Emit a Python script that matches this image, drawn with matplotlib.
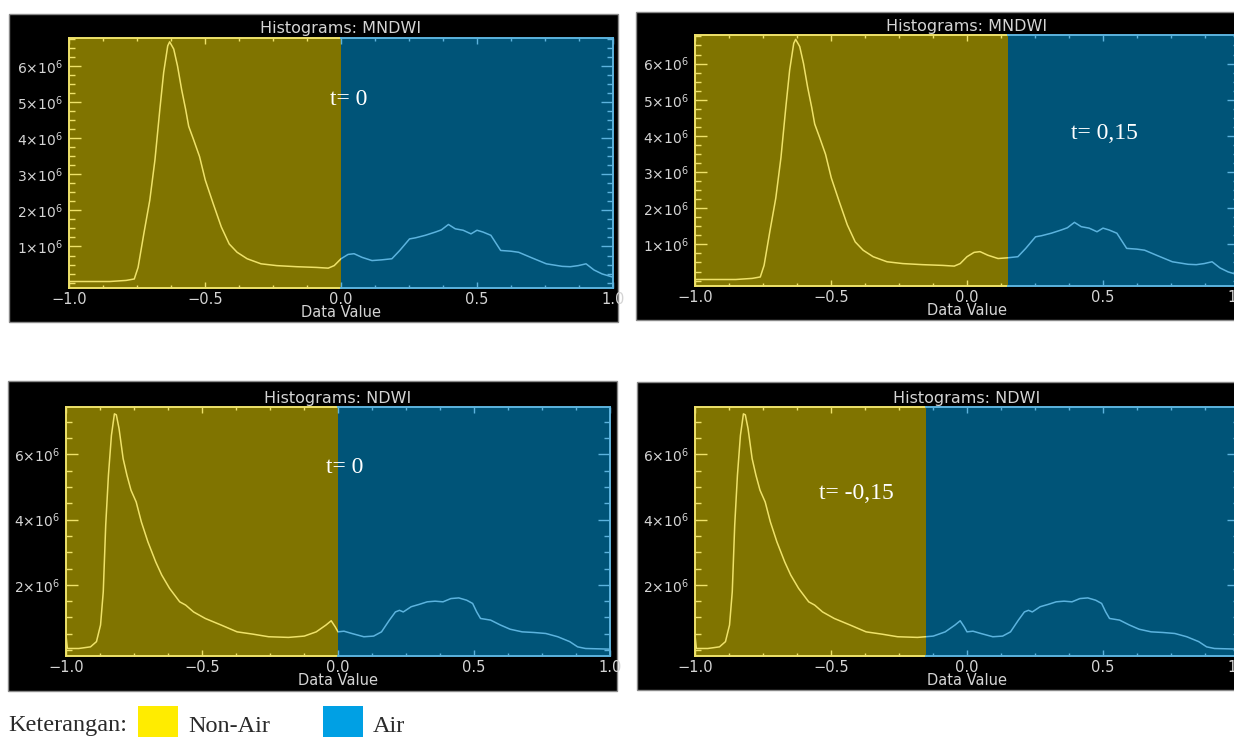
import matplotlib
matplotlib.use('Agg')
import matplotlib.pyplot as plt
from matplotlib.patches import Rectangle
from matplotlib.ticker import FixedLocator, MultipleLocator, FuncFormatter

W, H = 1234, 737

# MNDWI histogram, counts in millions
mndwi_x = [-1.0, -0.85, -0.79, -0.76, -0.746, -0.725, -0.703, -0.684, -0.666, -0.652,
           -0.637, -0.630, -0.615, -0.601, -0.586, -0.571, -0.56, -0.542, -0.52, -0.499,
           -0.47, -0.44, -0.411, -0.382, -0.345, -0.294, -0.236, -0.163, -0.09, -0.047,
           -0.025, 0.0, 0.026, 0.048, 0.077, 0.114, 0.15, 0.187, 0.216, 0.252,
           0.274, 0.31, 0.347, 0.369, 0.395, 0.42, 0.449, 0.478, 0.5, 0.522,
           0.551, 0.587, 0.624, 0.653, 0.697, 0.755, 0.813, 0.843, 0.872, 0.901,
           0.93, 0.96, 1.0]
mndwi_y = [0.03, 0.03, 0.06, 0.10, 0.42, 1.35, 2.28, 3.40, 4.80, 5.82,
           6.56, 6.67, 6.47, 6.00, 5.35, 4.79, 4.33, 3.96, 3.49, 2.84,
           2.19, 1.54, 1.07, 0.84, 0.66, 0.52, 0.47, 0.44, 0.42, 0.40,
           0.47, 0.66, 0.78, 0.80, 0.70, 0.61, 0.63, 0.66, 0.89, 1.21,
           1.24, 1.31, 1.40, 1.46, 1.61, 1.49, 1.45, 1.35, 1.45, 1.40,
           1.31, 0.89, 0.87, 0.84, 0.70, 0.52, 0.45, 0.44, 0.47, 0.52,
           0.35, 0.24, 0.15]

# NDWI histogram, counts in millions
ndwi_x = [-1.0, -0.995, -0.953, -0.91, -0.888, -0.873, -0.863, -0.854, -0.844, -0.833,
          -0.822, -0.815, -0.805, -0.79, -0.776, -0.761, -0.742, -0.723, -0.699, -0.67,
          -0.648, -0.619, -0.582, -0.56, -0.531, -0.488, -0.43, -0.371, -0.313, -0.255,
          -0.182, -0.124, -0.08, -0.044, -0.025, -0.01, 0.0, 0.022, 0.051, 0.095,
          0.131, 0.16, 0.189, 0.211, 0.226, 0.24, 0.269, 0.298, 0.328, 0.357,
          0.386, 0.415, 0.444, 0.473, 0.495, 0.51, 0.524, 0.561, 0.597, 0.633,
          0.677, 0.721, 0.764, 0.808, 0.852, 0.881, 0.91, 1.0]
ndwi_y = [0.46, 0.05, 0.05, 0.10, 0.26, 0.77, 1.79, 3.83, 5.36, 6.58,
          7.24, 7.21, 6.79, 5.87, 5.36, 4.90, 4.54, 3.93, 3.32, 2.70,
          2.30, 1.89, 1.48, 1.38, 1.17, 0.97, 0.77, 0.56, 0.49, 0.41,
          0.39, 0.43, 0.56, 0.77, 0.90, 0.71, 0.56, 0.58, 0.51, 0.41,
          0.43, 0.56, 0.92, 1.17, 1.22, 1.17, 1.33, 1.40, 1.48, 1.50,
          1.48, 1.58, 1.60, 1.53, 1.43, 1.17, 0.97, 0.92, 0.77, 0.64,
          0.56, 0.54, 0.51, 0.41, 0.26, 0.10, 0.05, 0.03]

panel_titles = ['Histograms: MNDWI', 'Histograms: MNDWI', 'Histograms: NDWI', 'Histograms: NDWI']
thresholds = [0.0, 0.15, 0.0, -0.15]
threshold_labels = ['t= 0', 't= 0,15', 't= 0', 't= -0,15']
label_pos = [(0.03, 5.06), (0.507, 4.08), (0.026, 5.61), (-0.408, 4.81)]

OLIVE = '#807400'
DEEP_BLUE = '#005478'
YELLOW_LINE = '#efe26a'
BLUE_LINE = '#5cb3de'
TXT = '#d4d4d4'


def px_rect(x0, y0, x1, y1):
    return [x0 / W, 1 - y1 / H, (x1 - x0) / W, (y1 - y0) / H]


def paint_tick(tk, c1, c2):
    # tick marks are markers, so the colour lives on the marker edge
    tk.tick1line.set_markeredgecolor(c1)
    tk.tick2line.set_markeredgecolor(c2)


fig = plt.figure(figsize=(W / 100, H / 100), dpi=100)

# (black box, plot area) in pixels
boxes = [(9, 14, 618, 322), (636, 12, 1250, 320), (8, 381, 617, 691), (637, 382, 1250, 690)]
plots = [(69, 37.5, 613, 288), (695, 35, 1239, 286), (66, 407, 610, 656), (695, 407, 1239, 656)]

for i in range(4):
    bx = px_rect(*boxes[i])
    fig.patches.append(Rectangle((bx[0], bx[1]), bx[2], bx[3], transform=fig.transFigure,
                                 facecolor='black', edgecolor='#8a8a8a', linewidth=1.0, zorder=-5))
    ax = fig.add_axes(px_rect(*plots[i]))
    ax.set_facecolor('black')
    t = thresholds[i]
    is_mndwi = i < 2
    xs, ys = (mndwi_x, mndwi_y) if is_mndwi else (ndwi_x, ndwi_y)

    left_span = ax.axvspan(-1.0, t, color=OLIVE, lw=0)
    right_span = ax.axvspan(t, 1.0, color=DEEP_BLUE, lw=0)
    ln_y, = ax.plot(xs, ys, color=YELLOW_LINE, lw=1.1)
    ln_b, = ax.plot(xs, ys, color=BLUE_LINE, lw=1.1)
    ln_y.set_clip_path(left_span)
    ln_b.set_clip_path(right_span)

    ax.set_xlim(-1.0, 1.0)
    if is_mndwi:
        ax.set_ylim(-0.15, 6.79)
        ax.yaxis.set_major_locator(FixedLocator([1, 2, 3, 4, 5, 6]))
        ax.yaxis.set_minor_locator(MultipleLocator(0.25))
    else:
        ax.set_ylim(-0.18, 7.45)
        ax.yaxis.set_major_locator(FixedLocator([2, 4, 6]))
        ax.yaxis.set_minor_locator(MultipleLocator(0.5))
    ax.yaxis.set_major_formatter(FuncFormatter(lambda v, p: r'$%d{\times}10^{6}$' % round(v)))
    ax.xaxis.set_major_locator(FixedLocator([-1.0, -0.5, 0.0, 0.5, 1.0]))
    ax.xaxis.set_minor_locator(MultipleLocator(0.125))
    ax.xaxis.set_major_formatter(FuncFormatter(lambda v, p: ('%.1f' % v).replace('-', '\u2212')))

    ax.tick_params(axis='y', which='both', direction='in', left=True, right=True,
                   labelsize=10, labelcolor=TXT, pad=4.5)
    ax.tick_params(axis='y', which='major', length=8.5, width=1.0)
    ax.tick_params(axis='y', which='minor', length=4.5, width=1.0)
    ax.tick_params(axis='x', which='both', direction='in', top=True, bottom=True,
                   labelsize=10.5, labelcolor=TXT, pad=3)
    ax.tick_params(axis='x', which='major', length=4.5, width=1.0)
    ax.tick_params(axis='x', which='minor', length=2.5, width=1.0)

    # colour each tick by the side of the threshold it sits on
    for tk in ax.yaxis.get_major_ticks(len(ax.yaxis.get_majorticklocs())) + \
            ax.yaxis.get_minor_ticks(len(ax.yaxis.get_minorticklocs())):
        paint_tick(tk, YELLOW_LINE, BLUE_LINE)
    xmaj = ax.xaxis.get_majorticklocs()
    xmin = ax.xaxis.get_minorticklocs()
    for loc, tk in list(zip(xmaj, ax.xaxis.get_major_ticks(len(xmaj)))) + \
            list(zip(xmin, ax.xaxis.get_minor_ticks(len(xmin)))):
        c = YELLOW_LINE if loc < t else BLUE_LINE
        paint_tick(tk, c, c)

    for s in ax.spines.values():
        s.set_visible(False)
    trans = ax.get_xaxis_transform()
    for yy in (0, 1):
        ax.plot([-1.0, t], [yy, yy], color=YELLOW_LINE, lw=1.4, transform=trans, clip_on=False)
        ax.plot([t, 1.0], [yy, yy], color=BLUE_LINE, lw=1.4, transform=trans, clip_on=False)
    ax.plot([0, 0], [0, 1], color=YELLOW_LINE, lw=1.4, transform=ax.transAxes, clip_on=False)
    ax.plot([1, 1], [0, 1], color=BLUE_LINE, lw=1.4, transform=ax.transAxes, clip_on=False)

    ax.set_xlabel('Data Value', fontsize=10.5, color=TXT, labelpad=-1.5)
    ax.set_title(panel_titles[i], fontsize=11.5, color=TXT, pad=3)

    ax.text(label_pos[i][0], label_pos[i][1], threshold_labels[i], color='white',
            fontsize=17, family='Liberation Serif', ha='center', va='center')

# legend row
fig.text(8 / W, 1 - 726 / H, 'Keterangan:', fontsize=17.5, family='Liberation Serif',
         color='#2a2a2a', va='center', ha='left')
for x0, colour, name in [(138, '#ffec00', 'Non-Air'), (323, '#00a0e4', 'Air')]:
    r = px_rect(x0, 706, x0 + 40, 746)
    fig.patches.append(Rectangle((r[0], r[1]), r[2], r[3], transform=fig.transFigure,
                                 facecolor=colour, edgecolor='none'))
    fig.text((x0 + 50) / W, 1 - 726 / H, name, fontsize=17.5, family='Liberation Serif',
             color='#2a2a2a', va='center', ha='left')

fig.savefig('out.png', dpi=100, facecolor='white')
